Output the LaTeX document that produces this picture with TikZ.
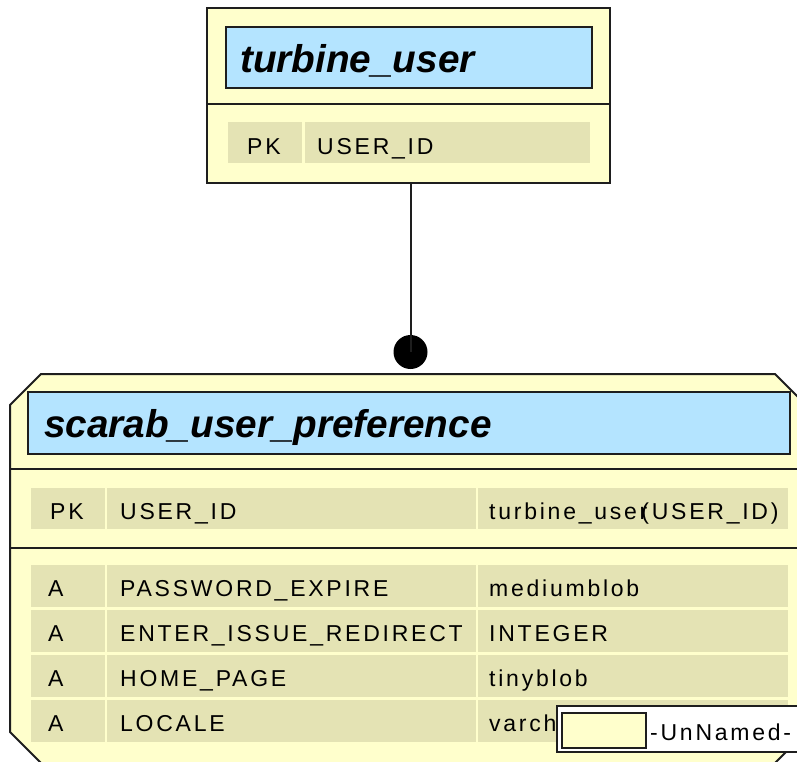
\documentclass[tikz,border=0pt]{standalone}
\usepackage{fontspec}
\setmainfont{Liberation Sans}
\newfontfamily\cellfont[LetterSpace=12]{Liberation Sans}
\usetikzlibrary{calc}
\definecolor{entyel}{RGB}{255,255,204}
\definecolor{titblue}{RGB}{180,228,255}
\definecolor{cellbg}{RGB}{228,227,180}
\definecolor{edgec}{RGB}{30,30,30}
\tikzset{
  box/.style={anchor=north west,inner sep=0pt,outer sep=0pt},
  entitybox/.style={box,draw=edgec,line width=2pt,fill=entyel},
  titlebox/.style={box,draw=edgec,line width=2.4pt,fill=titblue},
  cellbox/.style={box,fill=cellbg},
  titletext/.style={anchor=base west,inner sep=0pt,font=\fontsize{38.7}{40}\selectfont\bfseries\itshape},
  celltext/.style={anchor=base west,inner sep=0pt,font=\fontsize{23}{25}\selectfont\cellfont,text=black},
  sepline/.style={draw=edgec,line width=2pt},
}
\begin{document}
\begin{tikzpicture}[x=1pt,y=-1pt]
\useasboundingbox (0,0) rectangle (797,761);
\clip (0,0) rectangle (797,761);

% ---------- turbine_user ----------
\node[entitybox,minimum width=403pt,minimum height=175pt] (tu) at (207,8) {};
\node[titlebox,minimum width=366pt,minimum height=61pt] (tutitle) at (226,27) {};
\node[titletext] (tutitletext) at (240,72) {turbine\_user};
\coordinate (tusepl) at (207,104);
\coordinate (tusepr) at (610,104);
\draw[sepline] (tusepl) -- (tusepr);
\node[cellbox,minimum width=74pt,minimum height=41pt] (tupkcell) at (228,122) {};
\node[cellbox,minimum width=285pt,minimum height=41pt] (tunamecell) at (305,122) {};
\node[celltext] (tupk) at (247,154) {PK};
\node[celltext] (tuname) at (317,154) {USER\_ID};

% ---------- scarab_user_preference ----------
\node[box,minimum width=796pt,minimum height=389pt] (sup) at (10,374) {};
\draw[draw=edgec,line width=2pt,fill=entyel,line join=miter]
  ($(sup.north west)+(31,0)$) -- ($(sup.north east)+(-31,0)$) -- ($(sup.north east)+(0,31)$)
  -- ($(sup.south east)+(0,-31)$) -- ($(sup.south east)+(-31,0)$) -- ($(sup.south west)+(31,0)$)
  -- ($(sup.south west)+(0,-31)$) -- ($(sup.north west)+(0,31)$) -- cycle;
\node[titlebox,minimum width=762pt,minimum height=62pt] (suptitle) at (28,392) {};
\node[titletext] (suptitletext) at (44,437) {scarab\_user\_preference};
\coordinate (supsep1l) at (10,469);
\coordinate (supsep1r) at (806,469);
\coordinate (supsep2l) at (10,548);
\coordinate (supsep2r) at (806,548);
\draw[sepline] (supsep1l) -- (supsep1r);
\draw[sepline] (supsep2l) -- (supsep2r);

% PK row
\node[cellbox,minimum width=74pt,minimum height=41pt] (r0a) at (31,488) {};
\node[cellbox,minimum width=369pt,minimum height=41pt] (r0b) at (107,488) {};
\node[cellbox,minimum width=310pt,minimum height=41pt] (r0c) at (478,488) {};
\node[celltext] (t0a) at (50,519) {PK};
\node[celltext] (t0b) at (120,519) {USER\_ID};
\node[celltext] (t0c) at (489,519) {turbine\_user\kern-6pt(USER\_ID)};

% attribute rows
\foreach \i/\y/\nm/\ty in {1/565/PASSWORD\_EXPIRE/mediumblob,
                           2/610/ENTER\_ISSUE\_REDIRECT/INTEGER,
                           3/655/HOME\_PAGE/tinyblob,
                           4/700/LOCALE/varchar}{
  \node[cellbox,minimum width=74pt,minimum height=42pt] (r\i a) at (31,\y) {};
  \node[cellbox,minimum width=369pt,minimum height=42pt] (r\i b) at (107,\y) {};
  \node[cellbox,minimum width=310pt,minimum height=42pt] (r\i c) at (478,\y) {};
  \node[celltext] (t\i a) at (48,\y+31) {A};
  \node[celltext] (t\i b) at (120,\y+31) {\nm};
  \node[celltext] (t\i c) at (489,\y+31) {\ty};
}

% ---------- connector ----------
\node[circle,fill=black,inner sep=0pt,minimum size=34pt] (dot) at (410.5,352) {};
\draw[draw=edgec,line width=2pt] (dot.center) -- (dot |- tu.south);

% ---------- label ----------
\node[box,draw=edgec,line width=1.6pt,fill=white,minimum width=250pt,minimum height=46pt] (lbl) at (557,706) {};
\node[box,draw=edgec,line width=2.2pt,fill=entyel,minimum width=84pt,minimum height=35pt] (lblsw) at (562,713) {};
\node[celltext] (lbltext) at (650,740) {-UnNamed-};
\end{tikzpicture}
\end{document}
